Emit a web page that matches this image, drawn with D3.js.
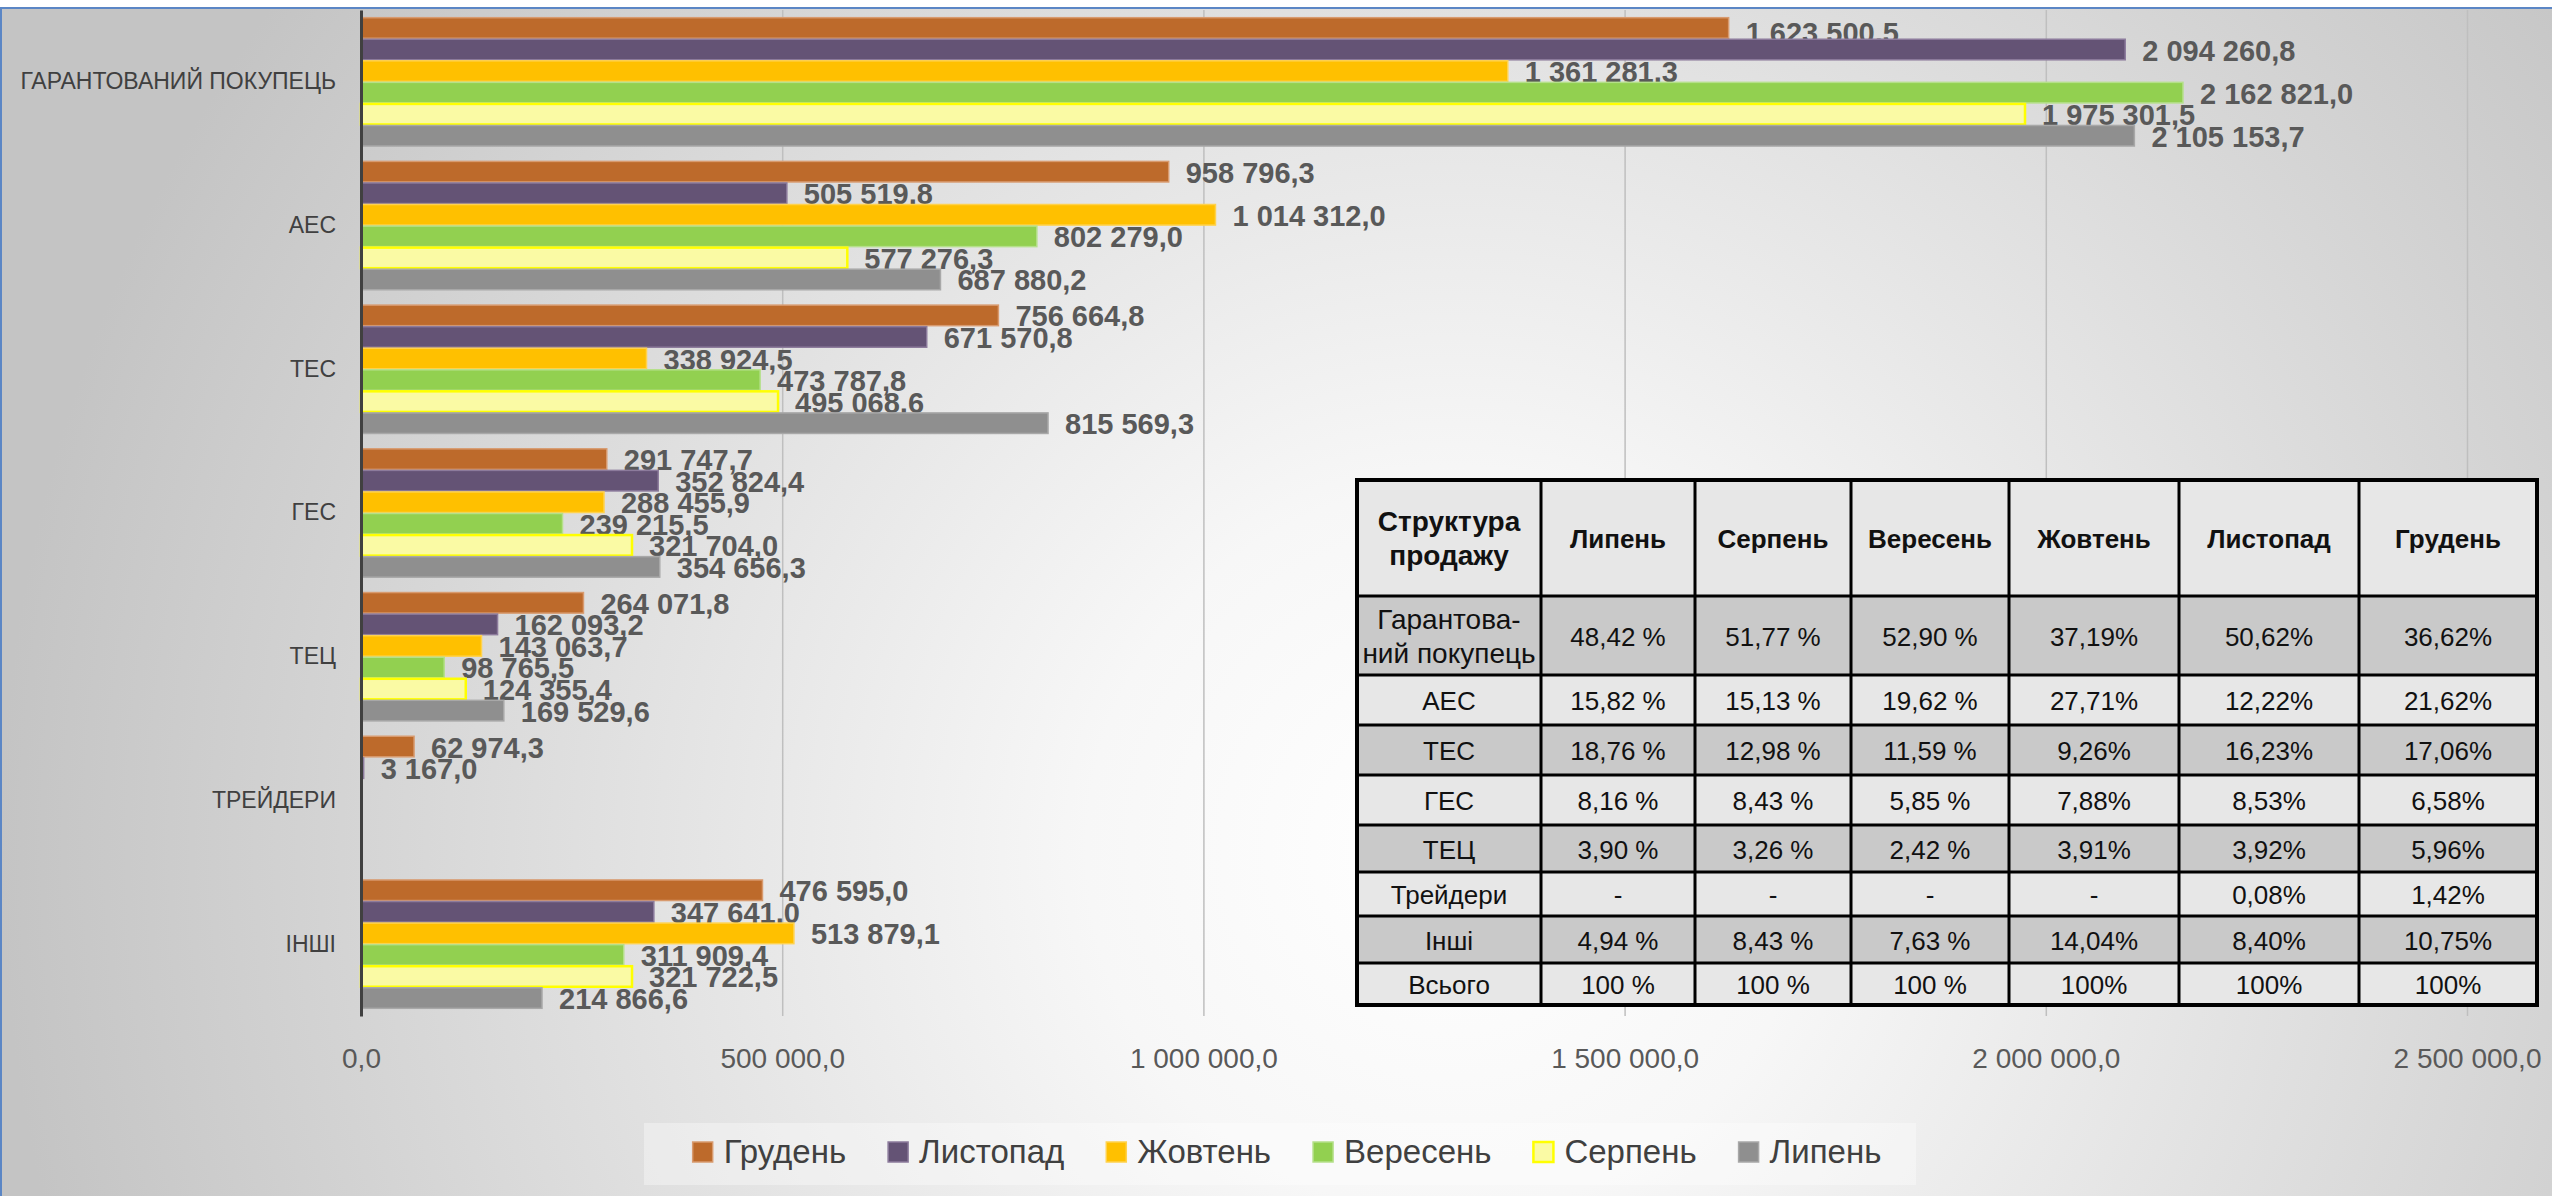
<!DOCTYPE html>
<html>
<head>
<meta charset="utf-8">
<title>Структура продажу</title>
<style>
    body { margin: 0; overflow: hidden; background: #fff; }
    text { font-family: "Liberation Sans", Arial, sans-serif; }
</style>
</head>
<body>
<script src="https://d3js.org/d3.v7.min.js"></script>
<script>
// categories (top to bottom) and series, in the order the bars are stacked in each group
const categories = ["ГАРАНТОВАНИЙ ПОКУПЕЦЬ", "АЕС", "ТЕС", "ГЕС", "ТЕЦ", "ТРЕЙДЕРИ", "ІНШІ"];
const months = ["Грудень", "Листопад", "Жовтень", "Вересень", "Серпень", "Липень"];

const grudenValues   = [1623500.5, 958796.3, 756664.8, 291747.7, 264071.8, 62974.3, 476595.0];
const lystopadValues = [2094260.8, 505519.8, 671570.8, 352824.4, 162093.2, 3167.0, 347641.0];
const zhovtenValues  = [1361281.3, 1014312.0, 338924.5, 288455.9, 143063.7, null, 513879.1];
const veresenValues  = [2162821.0, 802279.0, 473787.8, 239215.5, 98765.5, null, 311909.4];
const serpenValues   = [1975301.5, 577276.3, 495068.6, 321704.0, 124355.4, null, 321722.5];
const lypenValues    = [2105153.7, 687880.2, 815569.3, 354656.3, 169529.6, null, 214866.6];

const xTicks = [0, 500000, 1000000, 1500000, 2000000, 2500000];

// table on the right
const tableHeader = ["Структура\nпродажу", "Липень", "Серпень", "Вересень", "Жовтень", "Листопад", "Грудень"];
const tableRowNames = ["Гарантова-\nний покупець", "АЕС", "ТЕС", "ГЕС", "ТЕЦ", "Трейдери", "Інші", "Всього"];
const tableLypen    = ["48,42 %", "15,82 %", "18,76 %", "8,16 %", "3,90 %", "-", "4,94 %", "100 %"];
const tableSerpen   = ["51,77 %", "15,13 %", "12,98 %", "8,43 %", "3,26 %", "-", "8,43 %", "100 %"];
const tableVeresen  = ["52,90 %", "19,62 %", "11,59 %", "5,85 %", "2,42 %", "-", "7,63 %", "100 %"];
const tableZhovten  = ["37,19%", "27,71%", "9,26%", "7,88%", "3,91%", "-", "14,04%", "100%"];
const tableLystopad = ["50,62%", "12,22%", "16,23%", "8,53%", "3,92%", "0,08%", "8,40%", "100%"];
const tableGruden   = ["36,62%", "21,62%", "17,06%", "6,58%", "5,96%", "1,42%", "10,75%", "100%"];

// ---- styles
const seriesValues = [grudenValues, lystopadValues, zhovtenValues, veresenValues, serpenValues, lypenValues];
const fills   = ["#BD6A2B", "#645375", "#FFC000", "#92D050", "#FAFAA4", "#8F8F8F"];
const strokes = ["#D89A6E", "#8C7B9C", "#FFD24D", "#B5E08A", "#FFFF00", "#A8A8A8"];

const W = 2552, H = 1196;
const svg = d3.select("body").append("svg").attr("width", W).attr("height", H);

const defs = svg.append("defs");
const grad = defs.append("radialGradient").attr("id", "bg")
    .attr("gradientUnits", "userSpaceOnUse")
    .attr("cx", 1450).attr("cy", 850).attr("r", 1450);
grad.append("stop").attr("offset", "0%").attr("stop-color", "#ffffff");
grad.append("stop").attr("offset", "25%").attr("stop-color", "#f7f7f7");
grad.append("stop").attr("offset", "100%").attr("stop-color", "#c4c4c4");

svg.append("rect").attr("x", 0).attr("y", 8).attr("width", W).attr("height", H - 8).attr("fill", "url(#bg)");
svg.append("line").attr("x1", 0).attr("x2", W).attr("y1", 8).attr("y2", 8).attr("stroke", "#5B86C5").attr("stroke-width", 2);
svg.append("line").attr("x1", 1).attr("x2", 1).attr("y1", 8).attr("y2", H).attr("stroke", "#5B86C5").attr("stroke-width", 2);

const locale = d3.formatLocale({ decimal: ",", thousands: " ", grouping: [3], currency: ["", ""] });
const fmt = locale.format(",.1f");

const plotTop = 10, plotBottom = 1016;
const x = d3.scaleLinear().domain([0, 2500000]).range([361, 2467]);
const y = d3.scaleBand().domain(categories).range([plotTop, plotBottom]).paddingInner(0.1).paddingOuter(0.05);
const y1 = d3.scaleBand().domain(months).range([0, y.bandwidth()]);

// x axis with gridlines
const xAxis = svg.append("g")
    .attr("transform", `translate(0,${plotBottom})`)
    .call(d3.axisBottom(x).tickValues(xTicks).tickFormat(fmt)
        .tickSize(-(plotBottom - plotTop)).tickPadding(32));
xAxis.select(".domain").remove();
xAxis.selectAll(".tick line").attr("stroke", "#BFBFBF").attr("stroke-width", 1.5);
xAxis.selectAll(".tick text").attr("fill", "#595959").style("font-size", "28px");

// bars
const groups = svg.append("g").selectAll("g")
    .data(months.map((m, i) => ({ month: m, i })))
    .join("g");

groups.selectAll("rect")
    .data(s => categories.map((c, j) => ({ c, v: seriesValues[s.i][j], s }))
        .filter(d => d.v != null))
    .join("rect")
    .attr("x", x(0))
    .attr("y", d => y(d.c) + y1(d.s.month) + 0.5)
    .attr("width", d => x(d.v) - x(0))
    .attr("height", y1.bandwidth() - 1)
    .attr("fill", d => fills[d.s.i])
    .attr("stroke", d => strokes[d.s.i])
    .attr("stroke-width", d => d.s.month === "Серпень" ? 2.5 : 1.5);

// y axis
const yAxis = svg.append("g")
    .attr("transform", `translate(${x(0)},0)`)
    .call(d3.axisLeft(y).tickSize(0).tickSizeOuter(0).tickPadding(25));
yAxis.select(".domain").attr("stroke", "#404040").attr("stroke-width", 3);
yAxis.selectAll(".tick text").attr("fill", "#404040").style("font-size", "23px");

// value labels (kept a bit away from the top edge of the plot)
groups.selectAll("text")
    .data(s => categories.map((c, j) => ({ c, v: seriesValues[s.i][j], s }))
        .filter(d => d.v != null))
    .join("text")
    .attr("x", d => x(d.v) + 17)
    .attr("y", d => Math.max(y(d.c) + y1(d.s.month) + y1.bandwidth() / 2 + 11, plotTop + 33))
    .attr("fill", "#595959")
    .style("font-size", "29px")
    .style("font-weight", "bold")
    .text(d => fmt(d.v));

// table
const colEdges = [1357, 1541, 1695, 1851, 2009, 2179, 2359, 2537];
const rowEdges = [480, 596, 675, 725, 775, 825, 872, 916, 963, 1005];
const tableCols = [tableRowNames, tableLypen, tableSerpen, tableVeresen, tableZhovten, tableLystopad, tableGruden];
const tbl = svg.append("g");

const cells = [];
tableHeader.forEach((h, ci) => cells.push({ r: 0, ci, text: h, bold: true }));
tableRowNames.forEach((_, ri) => tableCols.forEach((col, ci) => cells.push({ r: ri + 1, ci, text: col[ri], bold: false })));

tbl.selectAll("rect.cell").data(cells).join("rect")
    .attr("x", d => colEdges[d.ci]).attr("y", d => rowEdges[d.r])
    .attr("width", d => colEdges[d.ci + 1] - colEdges[d.ci])
    .attr("height", d => rowEdges[d.r + 1] - rowEdges[d.r])
    .attr("fill", d => d.r % 2 === 1 ? "#C9C9C9" : "#E7E7E7");

tbl.selectAll("text").data(cells).join("text")
    .attr("text-anchor", "middle")
    .attr("y", d => (rowEdges[d.r] + rowEdges[d.r + 1]) / 2)
    .attr("fill", "#111")
    .style("font-size", d => d.text.length > 12 ? "28px" : "26px")
    .style("font-weight", d => d.bold ? "bold" : "normal")
    .each(function(d) {
        const lines = d.text.split("\n");
        const lh = 34;
        const cx = (colEdges[d.ci] + colEdges[d.ci + 1]) / 2;
        d3.select(this).selectAll("tspan").data(lines).join("tspan")
            .attr("x", cx)
            .attr("dy", (l, k) => k === 0 ? (-(lines.length - 1) * lh / 2 + 10) : lh)
            .text(l => l);
    });

colEdges.forEach(cx => tbl.append("line")
    .attr("x1", cx).attr("x2", cx).attr("y1", rowEdges[0]).attr("y2", rowEdges[rowEdges.length - 1])
    .attr("stroke", "#000").attr("stroke-width", 3));
rowEdges.forEach(ry => tbl.append("line")
    .attr("x1", colEdges[0] - 1.5).attr("x2", colEdges[colEdges.length - 1] + 1.5).attr("y1", ry).attr("y2", ry)
    .attr("stroke", "#000").attr("stroke-width", 3));
tbl.append("rect")
    .attr("x", colEdges[0]).attr("y", rowEdges[0])
    .attr("width", colEdges[colEdges.length - 1] - colEdges[0])
    .attr("height", rowEdges[rowEdges.length - 1] - rowEdges[0])
    .attr("fill", "none").attr("stroke", "#000").attr("stroke-width", 4);

// legend
const legend = svg.append("g");
legend.append("rect").attr("x", 644).attr("y", 1123).attr("width", 1272).attr("height", 62)
    .attr("fill", "#ffffff").attr("fill-opacity", 0.35);
let lx = 0;
const items = legend.append("g");
months.forEach((m, i) => {
    const it = items.append("g").attr("transform", `translate(${lx},0)`);
    it.append("rect").attr("x", 0).attr("y", -21).attr("width", 20).attr("height", 20)
        .attr("fill", fills[i]).attr("stroke", strokes[i]).attr("stroke-width", m === "Серпень" ? 2.5 : 1.5);
    const t = it.append("text").attr("x", 31).attr("y", 0).attr("fill", "#404040")
        .style("font-size", "33px").text(m);
    lx += 31 + t.node().getComputedTextLength() + 42;
});
lx -= 42;
items.attr("transform", `translate(${1287 - lx / 2},1163)`);
</script>
</body>
</html>
